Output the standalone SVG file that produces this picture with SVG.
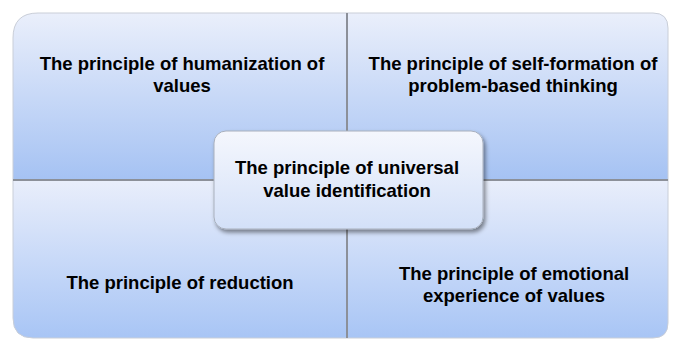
<svg xmlns="http://www.w3.org/2000/svg" width="673" height="340" viewBox="0 0 673 340">
<defs>
<linearGradient id="gTop" x1="0" y1="0" x2="0" y2="1">
<stop offset="0" stop-color="#eaeffb"/>
<stop offset="1" stop-color="#a5c2f3"/>
</linearGradient>
<linearGradient id="gBot" x1="0" y1="0" x2="0" y2="1">
<stop offset="0" stop-color="#e9eefb"/>
<stop offset="1" stop-color="#a8c5f5"/>
</linearGradient>
<linearGradient id="gCen" x1="0" y1="0" x2="0" y2="1">
<stop offset="0" stop-color="#f5f7fd"/>
<stop offset="1" stop-color="#d3e0f8"/>
</linearGradient>
<filter id="sh" x="-10%" y="-10%" width="125%" height="130%">
<feDropShadow dx="2" dy="3" stdDeviation="2" flood-color="#000" flood-opacity="0.45"/>
</filter>
<style>
.q{stroke:#c9ced8;stroke-width:1}
.sep{stroke:#8c9099;stroke-width:2;fill:none}
.t{font-family:"Liberation Sans",Arial,sans-serif;font-weight:bold;font-size:18.5px;fill:#000;text-anchor:middle}
</style>
</defs>
<g id="quad-tl">
<path class="q" d="M13,38 Q13,13 38,13 L347,13 L347,180 L13,180 Z" fill="url(#gTop)"/>
<text class="t" x="182" y="70">The principle of humanization of</text>
<text class="t" x="182" y="92">values</text>
</g>
<g id="quad-tr">
<path class="q" d="M347,13 L653,13 Q668,13 668,28 L668,180 L347,180 Z" fill="url(#gTop)"/>
<text class="t" x="513" y="70">The principle of self-formation of</text>
<text class="t" x="513" y="92">problem-based thinking</text>
</g>
<g id="quad-bl">
<path class="q" d="M13,180 L347,180 L347,338 L33,338 Q13,338 13,318 Z" fill="url(#gBot)"/>
<text class="t" x="180" y="289">The principle of reduction</text>
</g>
<g id="quad-br">
<path class="q" d="M347,180 L668,180 L668,323 Q668,338 653,338 L347,338 Z" fill="url(#gBot)"/>
<text class="t" x="514" y="280">The principle of emotional</text>
<text class="t" x="514" y="302">experience of values</text>
</g>
<g id="connectors">
<line class="sep" x1="347" y1="13" x2="347" y2="338"/>
<line class="sep" x1="13" y1="180" x2="668" y2="180"/>
</g>
<g id="center">
<rect x="214" y="131" width="269" height="98" rx="12" fill="url(#gCen)" stroke="#a9b0bd" stroke-width="1" filter="url(#sh)"/>
<text class="t" x="347" y="174">The principle of universal</text>
<text class="t" x="347" y="197">value identification</text>
</g>
</svg>
